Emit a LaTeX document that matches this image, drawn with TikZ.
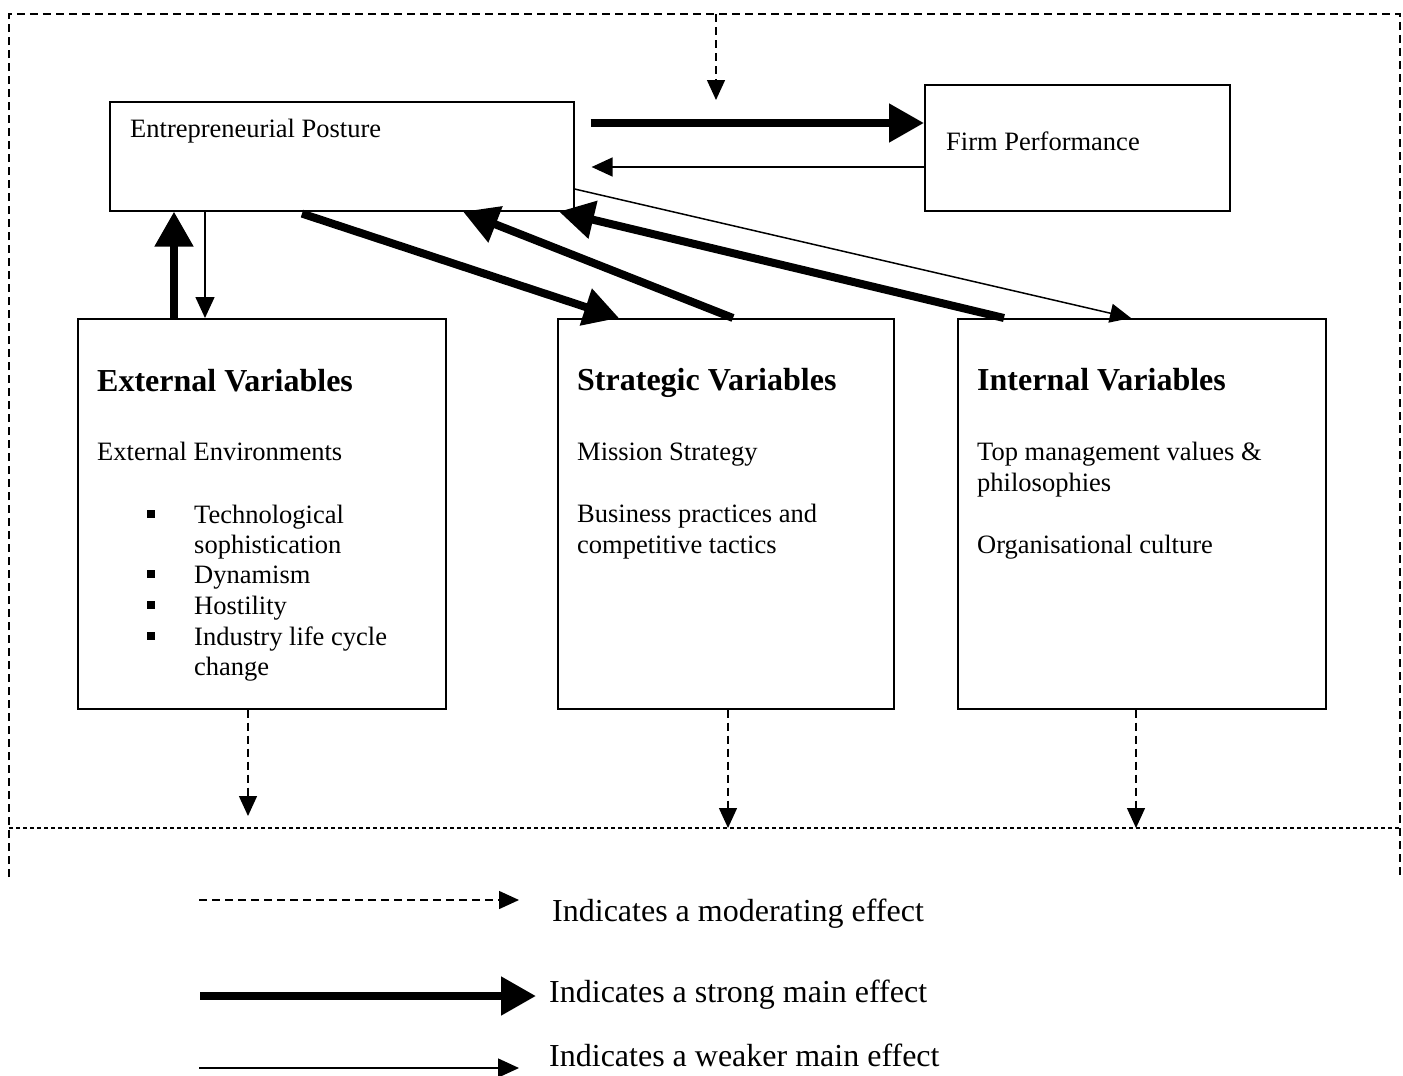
\documentclass[tikz,border=0pt]{standalone}
\usepackage{fontspec}
\setmainfont{Liberation Serif}
\usetikzlibrary{arrows.meta,calc}
\tikzset{
  box/.style={draw, line width=1.6pt, inner sep=0pt, anchor=north west},
  txt/.style={anchor=base west, inner sep=0pt, font=\fontsize{26.5}{30.8}\selectfont},
  headtxt/.style={anchor=base west, inner sep=0pt, font=\fontsize{32}{36}\selectfont\bfseries},
  legtxt/.style={anchor=base west, inner sep=0pt, font=\fontsize{32}{36}\selectfont},
  bulletbox/.style={fill=black, inner sep=0pt, minimum size=8pt},
  strongarrow/.style={line width=8pt, -{Triangle[length=35pt,width=37pt]}},
  weakarrow/.style={line width=1.5pt, -{Triangle[length=21pt,width=19pt]}},
  modarrow/.style={line width=1.4pt, dash pattern=on 8pt off 5pt, -{Triangle[length=20pt,width=18pt]}},
  framelines/.style={line width=1.4pt, dash pattern=on 8pt off 5pt},
  finedash/.style={line width=1.4pt, dash pattern=on 4pt off 3pt},
}
\begin{document}
\begin{tikzpicture}[x=1pt,y=-1pt]
\useasboundingbox (0,0) rectangle (1403,1076);

% outer frame
\draw[framelines] (9,877) -- (9,14) -- (1400,14) -- (1400,877);
\draw[finedash] (9,828) -- (1400,828);

% boxes
\node[box, minimum width=464pt, minimum height=109pt] (ep) at (109,101) {};
\node[box, minimum width=305pt, minimum height=126pt] (fp) at (924,84) {};
\node[box, minimum width=368pt, minimum height=390pt] (ext) at (77,318) {};
\node[box, minimum width=336pt, minimum height=390pt] (strat) at (557,318) {};
\node[box, minimum width=368pt, minimum height=390pt] (int) at (957,318) {};

% texts
\node[txt] (eptxt) at (130,137) {Entrepreneurial Posture};
\node[txt] (fptxt) at (946,150) {Firm Performance};

\node[headtxt] (exth) at (97,391) {External Variables};
\node[headtxt] (strath) at (577,390) {Strategic Variables};
\node[headtxt] (inth) at (977,390) {Internal Variables};

\node[txt] (extenv) at (97,460) {External Environments};
\node[txt] (e1) at (194,523) {Technological};
\node[txt] (e1b) at (194,553) {sophistication};
\node[txt] (e2) at (194,583) {Dynamism};
\node[txt] (e3) at (194,614) {Hostility};
\node[txt] (e4) at (194,645) {Industry life cycle};
\node[txt] (e4b) at (194,675) {change};
\node[bulletbox] (b1) at (151,514) {};
\node[bulletbox] (b2) at (151,574) {};
\node[bulletbox] (b3) at (151,605) {};
\node[bulletbox] (b4) at (151,636) {};

\node[txt] (s1) at (577,460) {Mission Strategy};
\node[txt] (s2) at (577,522) {Business practices and};
\node[txt] (s2b) at (577,553) {competitive tactics};

\node[txt] (i1) at (977,460) {Top management values \&};
\node[txt] (i1b) at (977,491) {philosophies};
\node[txt] (i2) at (977,553) {Organisational culture};

% main connectors
\draw[strongarrow] ($(ext.north west)+(97,0)$) -- ($(ep.south west)+(65,0)$);
\draw[weakarrow] ($(ep.south west)+(96,0)$) -- ($(ext.north west)+(128,0)$);
\draw[strongarrow] ($(ep.south west)+(193,2)$) -- ($(strat.north west)+(62,0)$);
\draw[strongarrow] ($(strat.north west)+(176,0)$) -- ($(ep.south west)+(354,0)$);
\draw[strongarrow] ($(int.north west)+(47,0)$) -- ($(ep.south west)+(450,0)$);
\draw[weakarrow] ($(ep.north east)+(0,88)$) -- ($(int.north west)+(174,0)$);
\draw[strongarrow] ($(ep.north east)+(16,22)$) -- ($(fp.north west)+(0,39)$);
\draw[weakarrow] ($(fp.north west)+(0,83)$) -- ($(ep.north east)+(17,66)$);

% moderating connectors
\coordinate (topmod) at (716,14);
\coordinate (topmodend) at (716,100);
\draw[modarrow] (topmod) -- (topmodend);
\coordinate (extmod) at (248,816);
\coordinate (stratmod) at (728,828);
\coordinate (intmod) at (1136,828);
\draw[modarrow] ($(ext.south west)+(171,0)$) -- (extmod);
\draw[modarrow] ($(strat.south west)+(171,0)$) -- (stratmod);
\draw[modarrow] ($(int.south west)+(179,0)$) -- (intmod);

% legend
\coordinate (l1a) at (199,900);
\coordinate (l1b) at (519,900);
\coordinate (l2a) at (200,996);
\coordinate (l2b) at (536,996);
\coordinate (l3a) at (199,1068);
\coordinate (l3b) at (519,1068);
\draw[modarrow] (l1a) -- (l1b);
\draw[strongarrow] (l2a) -- (l2b);
\draw[weakarrow] (l3a) -- (l3b);
\node[legtxt] (lg1) at (552,921) {Indicates a moderating effect};
\node[legtxt] (lg2) at (549,1002) {Indicates a strong main effect};
\node[legtxt] (lg3) at (549,1066) {Indicates a weaker main effect};
\end{tikzpicture}
\end{document}
